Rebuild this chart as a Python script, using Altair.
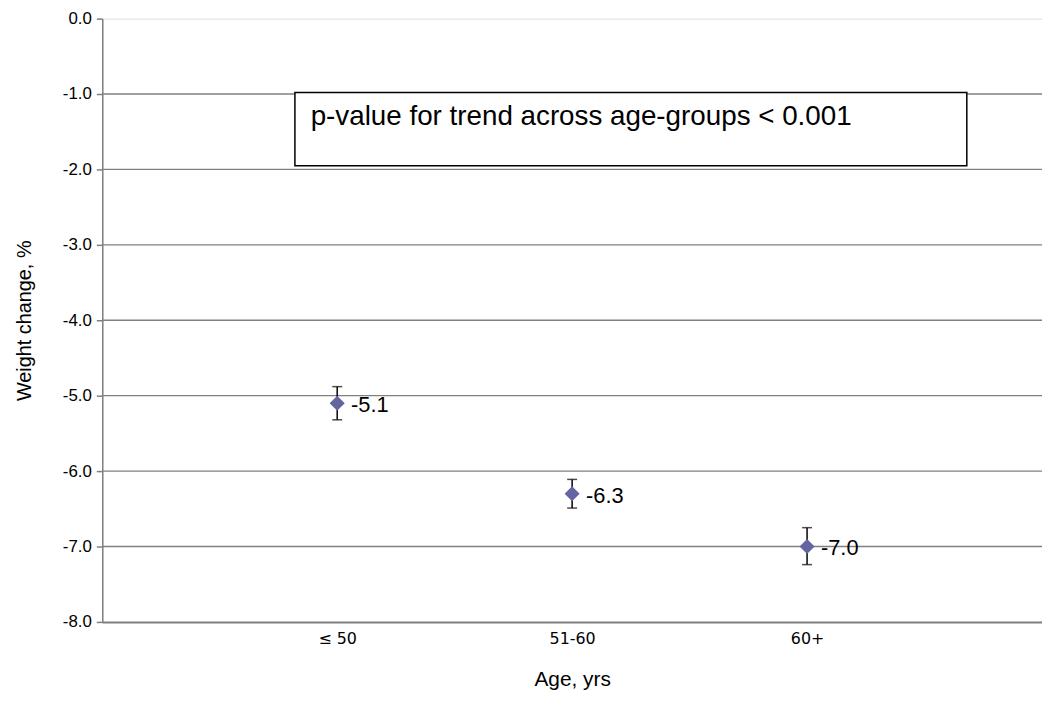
import altair as alt
import pandas as pd

# Data
age_groups = ["≤ 50", "51-60", "60+"]
positions = [1, 2, 3]
weight_change = [-5.1, -6.3, -7.0]
err_low = [-5.32, -6.49, -7.24]
err_high = [-4.88, -6.11, -6.75]
y_ticks = [0, -1, -2, -3, -4, -5, -6, -7, -8]
grid_values = [-1, -2, -3, -4, -5, -6, -7]
note_text = "p-value for trend across age-groups < 0.001"
note_box_x = [0.82, 3.68]
note_box_y = [-0.98, -1.95]
note_text_pos = [0.887, -1.41]

W, H = 947, 608

df = pd.DataFrame({
    "pos": positions,
    "group": age_groups,
    "value": weight_change,
    "lo": err_low,
    "hi": err_high,
    "label": [f"{v:.1f}" for v in weight_change],
})
grid_df = pd.DataFrame({"y": grid_values})
box_df = pd.DataFrame({"x": [note_box_x[0]], "x2": [note_box_x[1]],
                       "y": [note_box_y[0]], "y2": [note_box_y[1]]})
note_df = pd.DataFrame({"x": [note_text_pos[0]], "y": [note_text_pos[1]], "t": [note_text]})

label_expr = "[" + ",".join(f"'{g}'" for g in age_groups) + "][datum.value - 1]"

x_scale = alt.Scale(domain=[0, 4], nice=False, zero=False)
y_scale = alt.Scale(domain=[-8, 0], nice=False, zero=False)

x_axis = alt.Axis(values=positions, labelExpr=label_expr, title="Age, yrs")
y_axis = alt.Axis(values=y_ticks, labelExpr="replace(format(datum.value, '.1f'), '\u2212', '-')",
                  title="Weight change, %")

grid = alt.Chart(grid_df).mark_rule(color="#808080", strokeWidth=1.3).encode(
    y=alt.Y("y:Q", scale=y_scale, axis=y_axis),
    x=alt.value(0), x2=alt.value(W),
)

box = alt.Chart(box_df).mark_rect(fill="white", stroke="black", strokeWidth=1.5).encode(
    x=alt.X("x:Q", scale=x_scale, axis=x_axis), x2="x2:Q",
    y=alt.Y("y:Q", scale=y_scale), y2="y2:Q",
)

note = alt.Chart(note_df).mark_text(align="left", baseline="alphabetic", font="Liberation Sans",
                                    fontSize=28, color="black").encode(
    x=alt.X("x:Q", scale=x_scale), y=alt.Y("y:Q", scale=y_scale), text="t:N",
)

err = alt.Chart(df).mark_rule(color="black", strokeWidth=1.5).encode(
    x=alt.X("pos:Q", scale=x_scale), y=alt.Y("lo:Q", scale=y_scale), y2="hi:Q",
)
cap_lo = alt.Chart(df).mark_tick(color="black", orient="horizontal", size=10, thickness=1.5).encode(
    x=alt.X("pos:Q", scale=x_scale), y=alt.Y("lo:Q", scale=y_scale),
)
cap_hi = alt.Chart(df).mark_tick(color="black", orient="horizontal", size=10, thickness=1.5).encode(
    x=alt.X("pos:Q", scale=x_scale), y=alt.Y("hi:Q", scale=y_scale),
)
points = alt.Chart(df).mark_point(shape="diamond", filled=True, size=230, color="#6464a0",
                                  opacity=1).encode(
    x=alt.X("pos:Q", scale=x_scale), y=alt.Y("value:Q", scale=y_scale),
)
labels = alt.Chart(df).mark_text(align="left", baseline="middle", dx=14, dy=2,
                                 font="Liberation Sans", fontSize=22, color="black").encode(
    x=alt.X("pos:Q", scale=x_scale), y=alt.Y("value:Q", scale=y_scale), text="label:N",
)

chart = alt.layer(grid, box, note, err, cap_lo, cap_hi, points, labels).properties(
    width=W, height=H,
    autosize=alt.AutoSizeParams(type="none"),
    padding={"left": 95, "top": 8, "right": 0, "bottom": 78},
).configure_view(stroke=None).configure(background="white").configure_axisX(
    grid=False, ticks=False, domainColor="#7f7f7f", domainWidth=2,
    labelFont="DejaVu Sans", labelFontSize=16, labelColor="#000000",
    labelPadding=9, titleFont="Liberation Sans", titleFontSize=21,
    titleFontWeight="normal", titlePadding=22, titleColor="#000000",
).configure_axisY(
    grid=False, tickSize=6, tickColor="#7f7f7f",
    tickWidth=1.5, domainColor="#7f7f7f", domainWidth=1.5,
    labelFont="Liberation Sans", labelFontSize=17, labelColor="#000000",
    labelPadding=5, titleFont="Liberation Sans", titleFontSize=20,
    titleFontWeight="normal", titlePadding=28, titleColor="#000000",
)

chart.save("out.html", embed_options={"renderer": "svg", "actions": False})
